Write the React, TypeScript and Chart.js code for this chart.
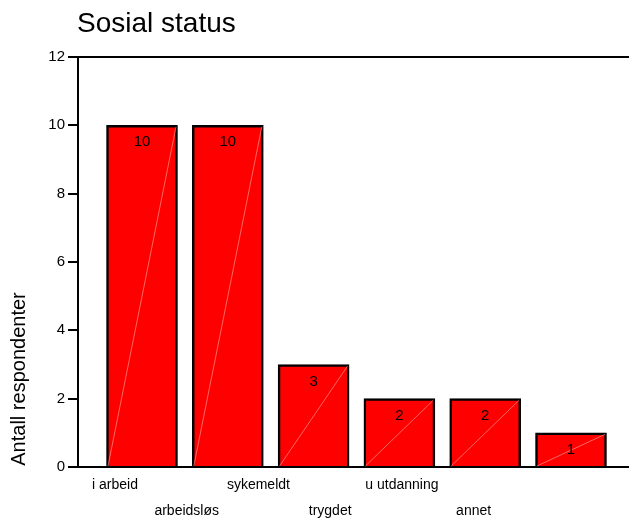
import React, { useEffect, useRef } from "react";
import { Chart, registerables } from "chart.js";

Chart.register(...registerables);

const title = "Sosial status";
const yAxisTitle = "Antall respondenter";
const categories = ["i arbeid", "arbeidsløs", "sykemeldt", "trygdet", "u utdanning", "annet"];
const counts = [10, 10, 3, 2, 2, 1];
const yMin = 0;
const yMax = 12;
const yStep = 2;

const FONT = "'Liberation Sans', Arial, sans-serif";

// layout constants (positions of the misaligned category labels in the original)
const X_MIN = -0.746;
const X_MAX = 5.676;
const LABEL_OFFSET = -0.315;
const LABEL_STEP = 0.836;

const decorPlugin = {
  id: "decor",
  afterDatasetsDraw(chart: any) {
    const ctx = chart.ctx;
    const meta = chart.getDatasetMeta(0);
    ctx.save();
    meta.data.forEach((bar: any, i: number) => {
      const { x, y, base, width } = bar.getProps(["x", "y", "base", "width"], true);
      ctx.strokeStyle = "rgba(255,170,170,0.75)";
      ctx.lineWidth = 0.8;
      ctx.beginPath();
      ctx.moveTo(x - width / 2 + 1.5, base);
      ctx.lineTo(x + width / 2 - 1.5, y + 1.5);
      ctx.stroke();
      ctx.fillStyle = "#000";
      ctx.font = `15px ${FONT}`;
      ctx.textAlign = "center";
      ctx.textBaseline = "middle";
      ctx.fillText(String(counts[i]), x, y + 17);
    });
    ctx.restore();
  },
  afterDraw(chart: any) {
    const ctx = chart.ctx;
    ctx.save();
    ctx.fillStyle = "#000";
    ctx.font = `28px ${FONT}`;
    ctx.textAlign = "left";
    ctx.textBaseline = "alphabetic";
    ctx.fillText(title, 77, 32);
    ctx.translate(19, 379);
    ctx.rotate(-Math.PI / 2);
    ctx.font = `20px ${FONT}`;
    ctx.textAlign = "center";
    ctx.textBaseline = "middle";
    ctx.fillText(yAxisTitle, 0, 0);
    ctx.restore();
  },
};

export default function App() {
  const ref = useRef<HTMLCanvasElement | null>(null);
  useEffect(() => {
    if (!ref.current) return;
    const chart = new Chart(ref.current, {
      type: "bar",
      data: {
        datasets: [
          {
            data: counts.map((v, i) => ({ x: i, y: v })),
            backgroundColor: "#ff0000",
            borderColor: "#000000",
            borderWidth: 2.5,
            borderSkipped: "start",
            barThickness: 71,
          },
        ],
      },
      options: {
        responsive: false,
        animation: false,
        layout: { padding: { top: 57, right: 0, bottom: 0, left: 0 } },
        plugins: {
          legend: { display: false },
          title: { display: false },
          tooltip: { enabled: false },
        },
        scales: {
          x: {
            type: "linear",
            offset: false,
            min: X_MIN,
            max: X_MAX,
            grid: { display: false },
            border: { display: true, color: "#000", width: 2 },
            afterBuildTicks: (scale: any) => {
              scale.ticks = categories.map((_, i) => ({ value: LABEL_OFFSET + i * LABEL_STEP }));
            },
            afterFit: (scale: any) => {
              scale.height = 56;
            },
            ticks: {
              autoSkip: false,
              maxRotation: 0,
              minRotation: 0,
              padding: -3,
              color: "#000",
              font: { family: FONT, size: 14, lineHeight: 1.857 },
              callback: (_v: any, i: number) => (i % 2 === 1 ? ["", categories[i]] : categories[i]),
            },
          },
          y: {
            min: yMin,
            max: yMax,
            grid: {
              drawOnChartArea: true,
              color: (c: any) => (c.tick && c.tick.value === yMax ? "#000" : "rgba(0,0,0,0)"),
              tickColor: "#000",
              lineWidth: 2,
              tickWidth: 2,
              tickLength: 10,
            },
            border: { display: true, color: "#000", width: 2 },
            afterFit: (scale: any) => {
              scale.width = 78;
            },
            ticks: {
              stepSize: yStep,
              padding: 3,
              color: "#000",
              font: { family: FONT, size: 15 },
            },
          },
        },
      },
      plugins: [decorPlugin],
    } as any);
    return () => chart.destroy();
  }, []);
  return (
    <div style={{ position: "fixed", left: 0, top: 0, width: 629, height: 523, background: "#fff" }}>
      <canvas ref={ref} width={629} height={523} style={{ display: "block" }} />
    </div>
  );
}
